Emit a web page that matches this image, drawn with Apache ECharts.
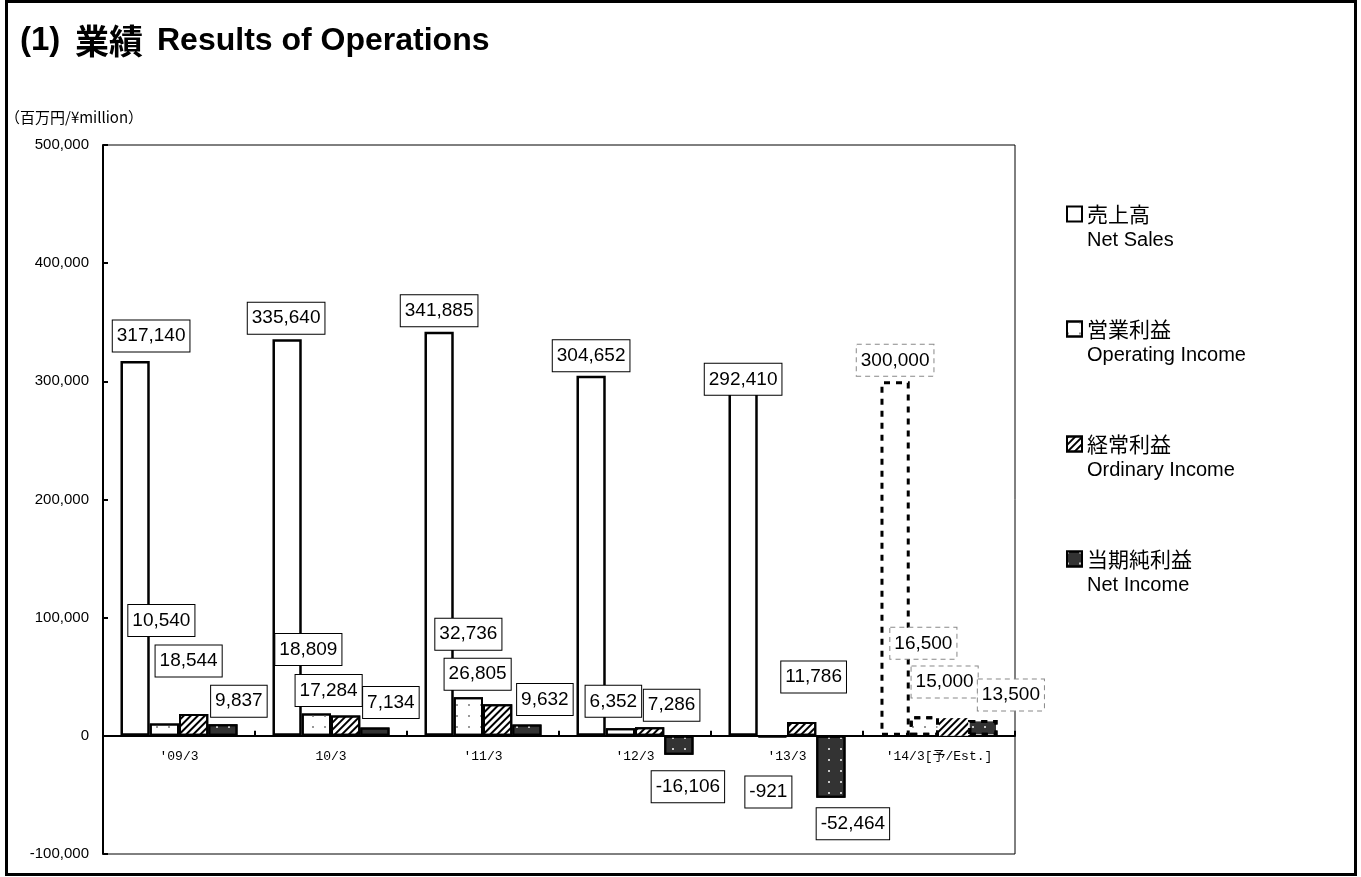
<!DOCTYPE html>
<html><head><meta charset="utf-8">
<script src="https://cdn.jsdelivr.net/npm/echarts@6/dist/echarts.min.js"></script>
<style>html,body{margin:0;padding:0;background:#fff}#c{width:1361px;height:877px}</style>
</head><body><div id="c"></div>
<script>
// ---- data ----
const categories = ["'09/3", "10/3", "'11/3", "'12/3", "'13/3", "'14/3[予/Est.]"];
const netSales = [317140, 335640, 341885, 304652, 292410, 300000];
const operatingIncome = [10540, 18809, 32736, 6352, -921, 16500];
const ordinaryIncome = [18544, 17284, 26805, 7286, 11786, 15000];
const netIncome = [9837, 7134, 9632, -16106, -52464, 13500];
const forecastIndex = 5;
const seriesNamesJa = ['売上高', '営業利益', '経常利益', '当期純利益'];
const seriesNamesEn = ['Net Sales', 'Operating Income', 'Ordinary Income', 'Net Income'];
const yMin = -100000, yMax = 500000, yStep = 100000;
const unitLabel = '（百万円/¥million）';
const titleParts = ['(1)', '業績', 'Results of Operations'];

// ---- layout: label nudges [dx, dy] relative to the bar's outer end (px) ----
const labelNudge = [
  [[16,-25],[-1,-21],[0,-21],[0,-20],[0,-11],[0,-21]],
  [[-3,-103],[-8,-64],[0,-63],[-7,-27],[-4,55],[-1,-73]],
  [[-5,-53],[-17,-25],[-20,-30],[22,-22],[12,-45],[-9,-36]],
  [[16,-23],[16,-25],[18,-25],[9,32],[22,26],[28,-25]]
];
const gridBox = {left: 103, top: 145, right: 346, bottom: 23};
const gridH = 877 - gridBox.top - gridBox.bottom;

const allValues = [netSales, operatingIncome, ordinaryIncome, netIncome];
const fmt = v => v.toLocaleString('en-US');

const dotDecal = (c) => ({symbol: 'rect', symbolSize: 1, color: c, dashArrayX: [2, 10], dashArrayY: [2, 9]});
const barStyles = [
  {color: '#fff', borderColor: '#000', borderWidth: 2.5},
  {color: '#fff', borderColor: '#000', borderWidth: 2, decal: dotDecal('#999')},
  {color: '#fff', borderColor: '#000', borderWidth: 2, decal: {symbol: 'rect', symbolSize: 1, color: '#000', dashArrayX: [1, 0], dashArrayY: [2, 3], rotation: -Math.PI / 4}},
  {color: '#333', borderColor: '#000', borderWidth: 2, decal: dotDecal('#c8c8c8')}
];

const chart = echarts.init(document.getElementById('c'));

function buildSeries(halfLens) {
  return allValues.map((vals, s) => ({
    type: 'bar',
    name: seriesNamesJa[s],
    barGap: '0%',
    barCategoryGap: '23%',
    itemStyle: barStyles[s],
    label: {
      show: true, position: 'inside',
      formatter: p => fmt(p.value),
      color: '#000', fontSize: 19, fontFamily: 'Liberation Sans, Arial, sans-serif',
      backgroundColor: '#fff', borderColor: '#000', borderWidth: 1,
      padding: [5, 4, 4, 4], lineHeight: 22
    },
    data: vals.map((v, i) => {
      const n = labelNudge[s][i];
      const half = halfLens ? halfLens[s][i] : 0;
      const item = {value: v, label: {offset: [n[0], half + n[1]]}};
      if (i === forecastIndex) {
        item.itemStyle = {borderType: [6, 6], borderWidth: s === 2 ? 0 : 3};
        item.label.borderColor = '#888';
        item.label.borderType = [5, 4];
      }
      return item;
    })
  }));
}

const option = {
  animation: false,
  backgroundColor: '#fff',
  grid: Object.assign({show: true, borderColor: '#000', borderWidth: 1, containLabel: false, outerBoundsMode: 'none'}, gridBox),
  xAxis: {
    type: 'category', data: categories, position: 'bottom',
    offset: -gridH * (0 - yMin) / (yMax - yMin),
    axisLine: {onZero: false, lineStyle: {color: '#000', width: 2}},
    axisTick: {show: true, inside: true, length: 5, lineStyle: {color: '#000', width: 2}},
    axisLabel: {color: '#000', fontSize: 13, fontFamily: 'Liberation Mono, Noto Sans CJK JP, monospace', margin: 14, interval: 0},
    splitLine: {show: false}
  },
  yAxis: {
    type: 'value', min: yMin, max: yMax, interval: yStep,
    axisLine: {show: true, lineStyle: {color: '#000', width: 2}},
    axisTick: {show: true, inside: true, length: 5, lineStyle: {color: '#000', width: 2}},
    axisLabel: {color: '#000', fontSize: 15, fontFamily: 'Liberation Sans, Arial, sans-serif', margin: 14, formatter: v => fmt(v)},
    splitLine: {show: false}
  },
  legend: {
    orient: 'vertical', left: 1066, top: 178, padding: 0, itemGap: 43,
    itemWidth: 15, itemHeight: 15, icon: 'rect', selectedMode: false,
    data: seriesNamesJa,
    formatter: name => '{s| }\n{a|' + name + '}\n{b|' + seriesNamesEn[seriesNamesJa.indexOf(name)] + '}',
    textStyle: {
      color: '#000',
      rich: {
        s: {fontSize: 20, lineHeight: 26},
        a: {fontSize: 21, lineHeight: 26, fontFamily: 'Noto Sans CJK JP', color: '#000'},
        b: {fontSize: 20, lineHeight: 26, fontFamily: 'Liberation Sans, Arial', color: '#000'}
      }
    }
  },
  graphic: [
    {type: 'rect', silent: true, shape: {x: 6.5, y: 1.5, width: 1349, height: 873}, style: {fill: 'none', stroke: '#000', lineWidth: 3}},
    {type: 'text', x: 20, y: 41, style: {text: titleParts[0], font: 'bold 33px Liberation Sans, Arial', fill: '#000', verticalAlign: 'middle'}},
    {type: 'text', x: 75, y: 41, style: {text: titleParts[1], font: 'bold 34px Noto Sans CJK JP', fill: '#000', verticalAlign: 'middle'}},
    {type: 'text', x: 157, y: 41, style: {text: titleParts[2], font: 'bold 32px Liberation Sans, Arial', fill: '#000', verticalAlign: 'middle'}},
    {type: 'text', x: 5, y: 117, style: {text: unitLabel, font: '15px Noto Sans CJK JP', fill: '#000', verticalAlign: 'middle'}}
  ],
  series: buildSeries(null)
};

chart.setOption(option);
// second pass: move labels from the bar centre to the bar's outer end using the axis scale
const y0 = chart.convertToPixel({yAxisIndex: 0}, 0);
const halfLens = allValues.map(vals => vals.map(v => (chart.convertToPixel({yAxisIndex: 0}, v) - y0) / 2));
chart.setOption({series: buildSeries(halfLens)});
</script></body></html>
